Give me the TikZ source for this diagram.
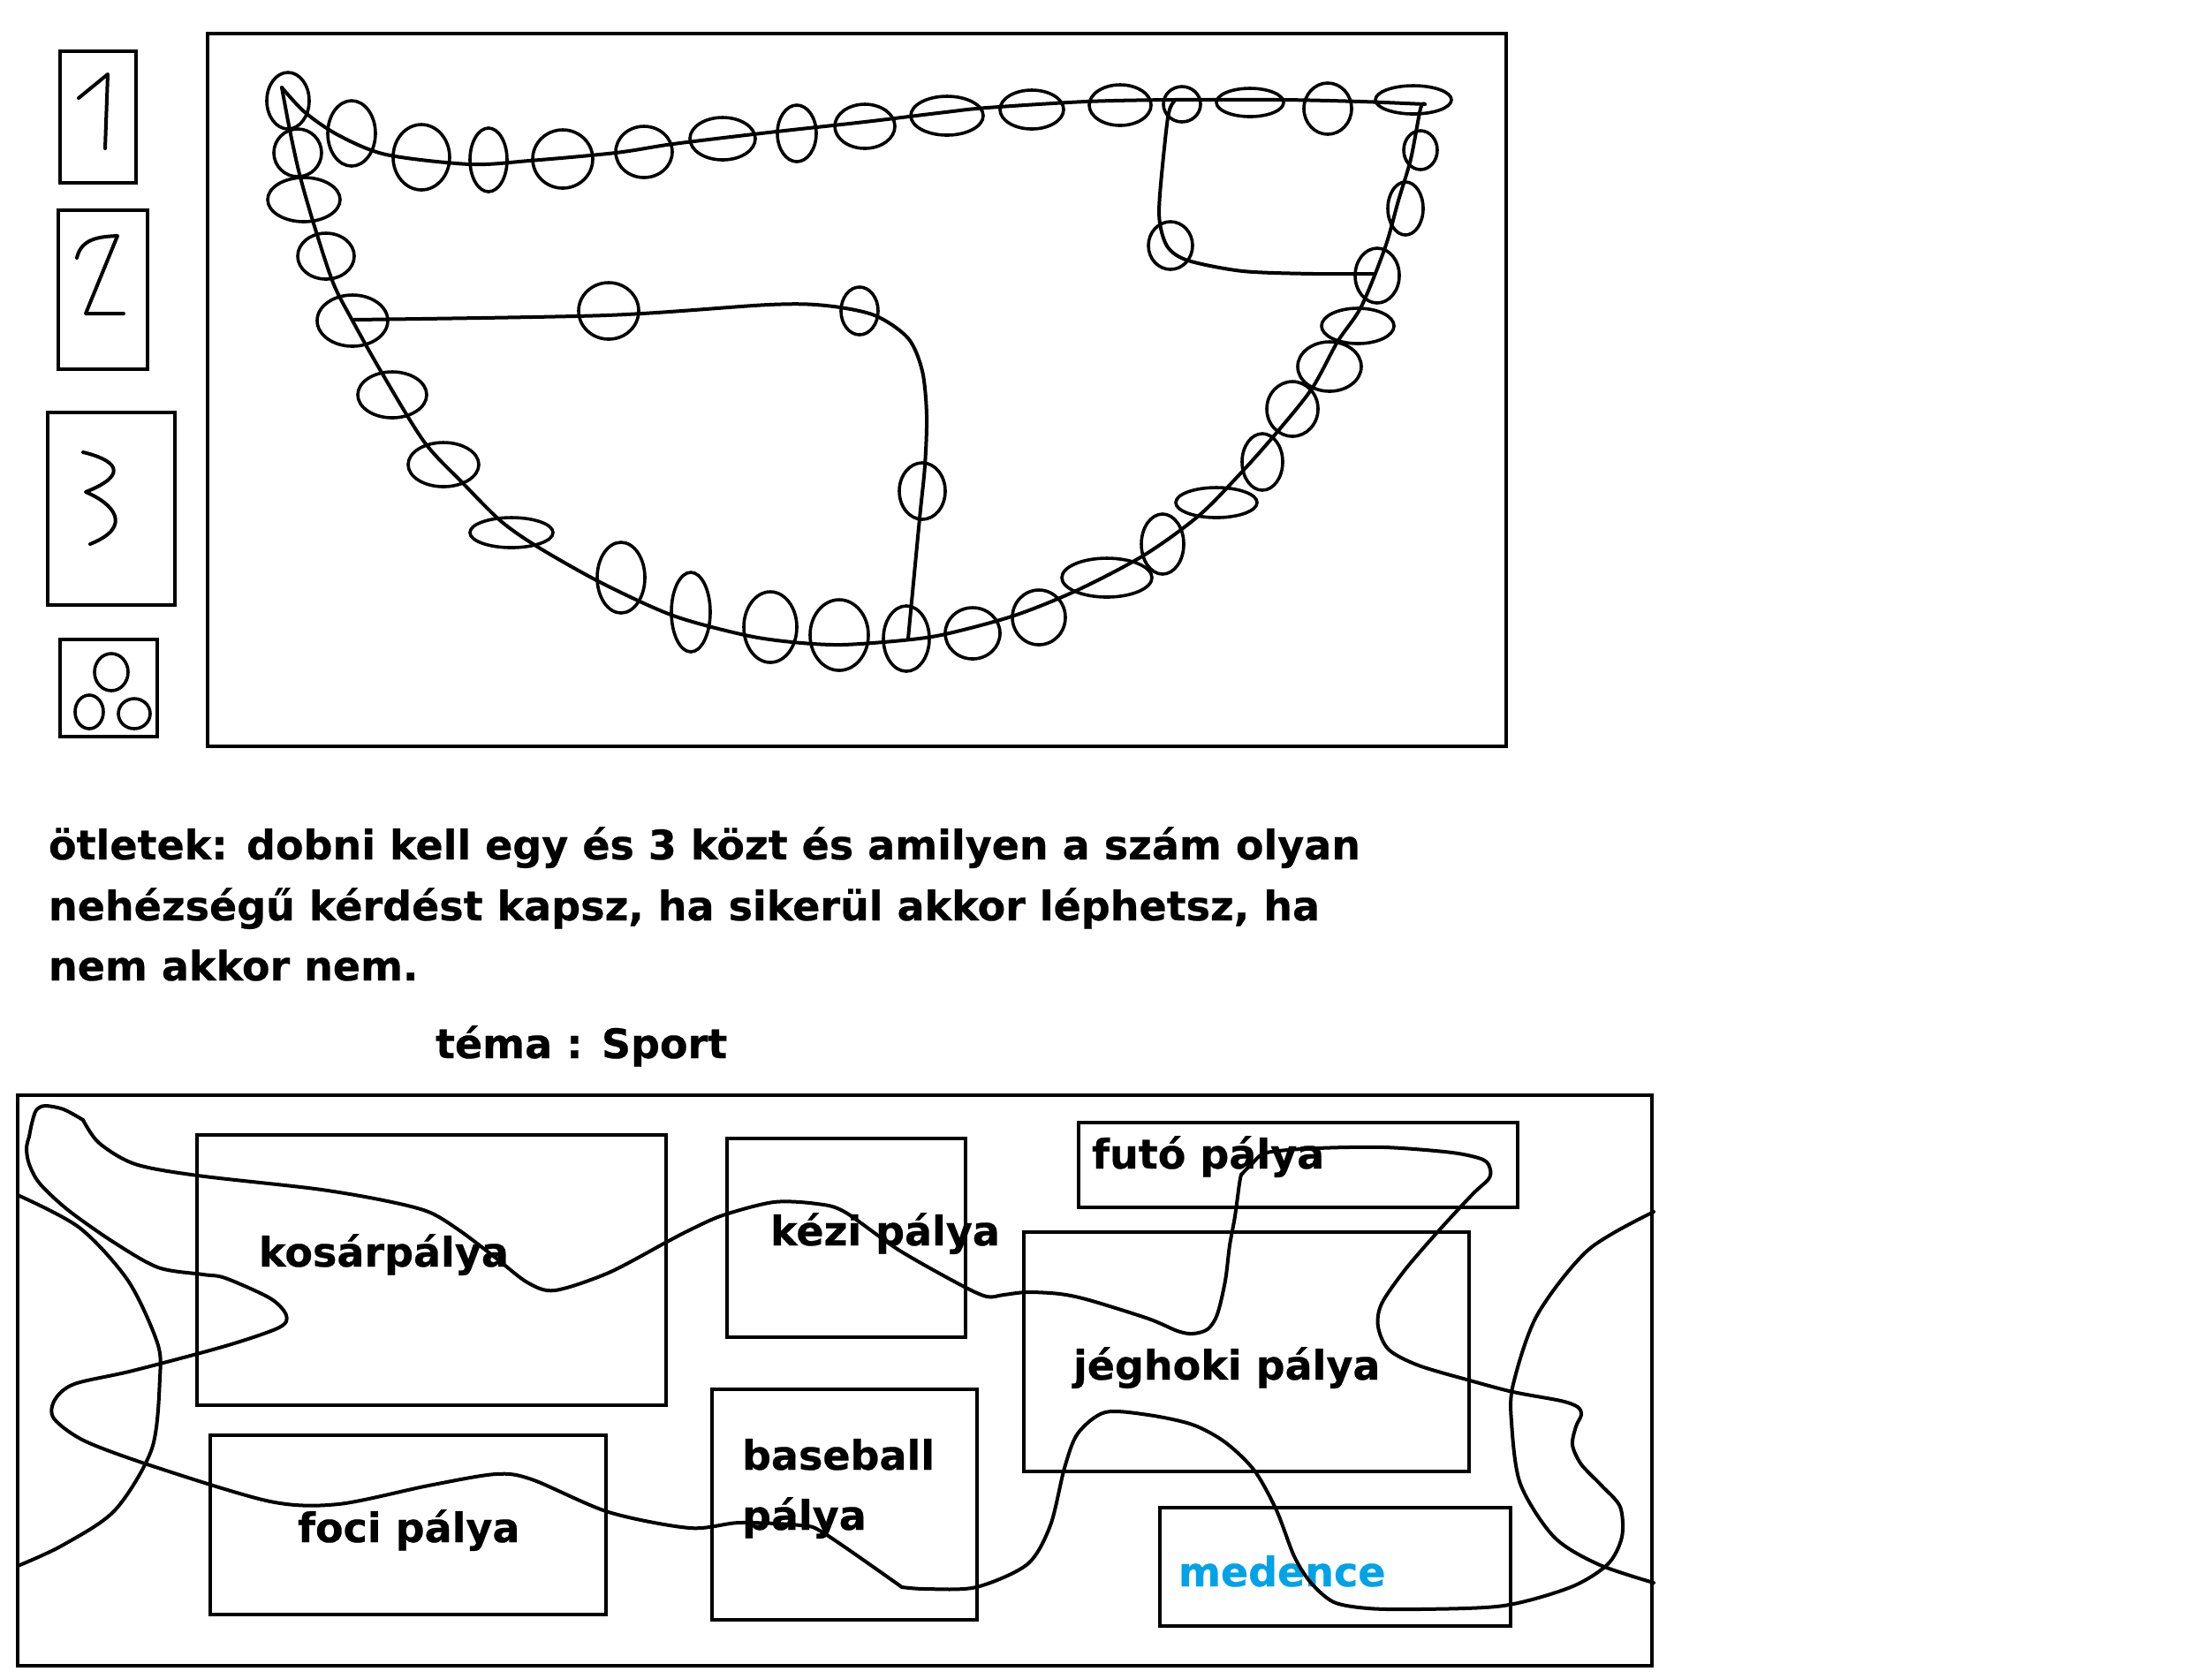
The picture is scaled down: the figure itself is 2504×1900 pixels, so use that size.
\documentclass[tikz,border=0pt]{standalone}
\usepackage{fontspec}
\setmainfont{DejaVu Sans}[BoldFeatures={FakeBold=0.5}]
\definecolor{paintblue}{RGB}{0,162,232}
\tikzset{
  frame/.style={line width=1.2pt},
  pen/.style={line width=1pt, line cap=round, line join=round},
  bead/.style={line width=0.9pt},
  lbl/.style={font=\bfseries\fontsize{11.5}{14}\selectfont, anchor=base west, inner sep=0pt, outer sep=0pt},
}
\begin{document}
\begin{tikzpicture}[x=0.25pt,y=-0.25pt]
\fill[white] (0,0) rectangle (2504,1900);
\useasboundingbox (0,0) rectangle (2504,1900);

% ---------- dice boxes ----------
\draw[frame] (68,58) rectangle (154,207);
\draw[pen] (89,111) -- (122,84) -- (119,168);
\draw[frame] (66,238) rectangle (167,418);
\draw[pen] (87,292) .. controls (92,270) and (112,268) .. (133,267) -- (97,355) -- (140,355);
\draw[frame] (54,467) rectangle (198,685);
\draw[pen] (94,512) .. controls (128,520) and (150,536) .. (97,557)
           .. controls (128,570) and (152,596) .. (102,616);
\draw[frame] (68,724) rectangle (178,834);
\draw[bead] (126,761) ellipse [x radius=19, y radius=21];
\draw[bead] (101,806) ellipse [x radius=16, y radius=19];
\draw[bead] (152,808) ellipse [x radius=18, y radius=17];

% ---------- game board ----------
\draw[frame] (235,38) rectangle (1705,845);

% main track
\draw[pen] plot[smooth] coordinates {(319,99) (345,127) (383,153) (437,175) (532,186) (599,182) (697,173) (762,163) (870,150) (979,138) (1070,127) (1117,122) (1229,115) (1327,113) (1452,113) (1541,115) (1613,118)};
\draw[pen] plot[smooth] coordinates {(319,99) (328,147) (339,197) (355,253) (377,320) (399,363) (431,420) (480,500) (524,547) (567,590) (610,620) (681,660) (762,697) (843,719) (897,727) (952,730) (1022,725) (1070,718) (1148,697) (1220,668) (1296,628) (1358,583) (1407,533) (1445,490) (1485,440) (1514,387) (1541,347) (1568,280) (1583,227) (1597,180) (1608,123) (1613,118)};
% shortcuts
\draw[pen] plot[smooth] coordinates {(399,362) (686,357) (870,345) (935,346) (990,357) (1028,383) (1044,420) (1049,470) (1047,527) (1041,587) (1028,723)};
\draw[pen] plot[smooth] coordinates {(1329,115) (1322,133) (1313,220) (1313,253) (1322,280) (1345,295) (1407,307) (1487,310) (1554,310)};

% fields (beads)
\foreach \cx/\cy/\rx/\ry in {
 326/114/24/32, 398/151/27/37, 477/178/32/37, 553/181/21/36, 637/180/34/33,
 729/172/32/29, 818/157/37/24, 902/151/22/32, 979/143/34/25, 1072/131/41/22,
 1168/124/36/22, 1268/119/35/23, 1338/118/21/20, 1415/116/38/16, 1503/123/27/29,
 1600/113/43/16, 1608/170/19/22, 1591/236/20/30, 1325/278/25/27, 1559/312/25/31,
 1537/369/41/20, 1505/415/36/28, 1463/463/29/31, 1429/523/23/32, 1377/569/46/17,
 1316/616/24/34, 1253/654/51/22, 1176/699/30/31, 1101/717/31/29, 1026/723/26/37,
 950/719/33/40, 872/710/30/40, 782/693/22/45, 703/654/27/40, 579/603/47/17,
 502/526/40/25, 444/447/39/26, 1044/556/26/32, 337/173/27/27, 344/226/41/25,
 369/290/32/26, 399/363/40/29, 689/352/34/32, 973/352/21/27}
  \draw[bead] (\cx,\cy) ellipse [x radius=\rx, y radius=\ry];

% ---------- notes ----------
\node[lbl] (idea1) at (55,973) {ötletek: dobni kell egy és 3 közt és amilyen a szám olyan};
\node[lbl] (idea2) at (55,1042) {nehézségű kérdést kapsz, ha sikerül akkor léphetsz, ha};
\node[lbl] (idea3) at (55,1110) {nem akkor nem.};
\node[lbl] (theme) at (493,1198) {téma : Sport};

% ---------- sports map ----------
\draw[frame] (20,1240) rectangle (1870,1886);
\draw[frame] (223,1285) rectangle (754,1591);
\draw[frame] (238,1625) rectangle (686,1828);
\draw[frame] (823,1289) rectangle (1093,1514);
\draw[frame] (806,1573) rectangle (1106,1834);
\draw[frame] (1221,1271) rectangle (1718,1367);
\draw[frame] (1159,1395) rectangle (1663,1666);
\draw[frame] (1313,1707) rectangle (1710,1841);

\node[lbl] (kosar) at (293,1434) {kosárpálya};
\node[lbl] (foci) at (337,1746) {foci pálya};
\node[lbl] (kezi) at (872,1410) {kézi pálya};
\node[lbl] (base1) at (840,1664) {baseball};
\node[lbl] (base2) at (840,1732) {pálya};
\node[lbl] (futo) at (1236,1323) {futó pálya};
\node[lbl] (jeg) at (1215,1562) {jéghoki pálya};
\node[lbl, text=paintblue] (medence) at (1334,1796) {medence};

% side arcs
\draw[pen] plot[smooth] coordinates {(20,1353) (90,1390) (145,1450) (178,1520) (181,1560) (172,1640) (130,1710) (70,1750) (20,1773)};
\draw[pen] plot[smooth] coordinates {(1872,1372) (1798,1415) (1740,1489) (1713,1567) (1711,1610) (1721,1680) (1759,1740) (1809,1771) (1872,1792)};

% winding path
\draw[pen] plot[smooth] coordinates {(94,1268) (72,1256) (51,1252) (41,1257) (36,1272) (33,1287)};
\draw[pen] plot[smooth] coordinates {(33,1287) (30,1300) (33,1318) (45,1340) (77,1370) (128,1406) (179,1435) (230,1443) (255,1447) (306,1470) (324,1489) (316,1503) (255,1524) (150,1552) (84,1567) (62,1585) (61,1606) (97,1632) (179,1662) (306,1700) (383,1703) (485,1682) (561,1669) (602,1675) (689,1712) (781,1730) (837,1724) (906,1727) (933,1736) (1021,1797)};
\draw[pen] plot[smooth] coordinates {(1021,1797) (1048,1799) (1105,1797) (1163,1771) (1189,1727) (1205,1662) (1220,1623) (1251,1599) (1300,1602) (1350,1613) (1387,1633) (1420,1665) (1445,1710) (1465,1762) (1484,1792) (1510,1814) (1549,1821) (1606,1822) (1702,1818) (1778,1797) (1820,1771) (1836,1740) (1834,1706) (1813,1682) (1790,1658) (1780,1636) (1784,1615) (1790,1602) (1786,1593) (1767,1586) (1713,1576) (1664,1563) (1606,1546) (1572,1528) (1560,1502) (1564,1476) (1591,1437) (1629,1393) (1667,1352) (1685,1335) (1687,1324) (1679,1313) (1644,1305) (1568,1299) (1491,1300) (1434,1305) (1417,1318) (1405,1330)};
\draw[pen] plot[smooth] coordinates {(1405,1330) (1403,1340) (1398,1377) (1392,1410) (1387,1450) (1378,1488) (1367,1505) (1350,1510) (1333,1507) (1300,1493) (1233,1472) (1200,1465) (1163,1463) (1136,1466) (1117,1468) (1086,1454) (1017,1415) (956,1372) (925,1363) (876,1361) (818,1376) (780,1393) (755,1406) (689,1441) (628,1461) (597,1452) (561,1424) (520,1393) (485,1372) (434,1359) (357,1346) (224,1331) (153,1318) (112,1294) (94,1268)};
\end{tikzpicture}
\end{document}
